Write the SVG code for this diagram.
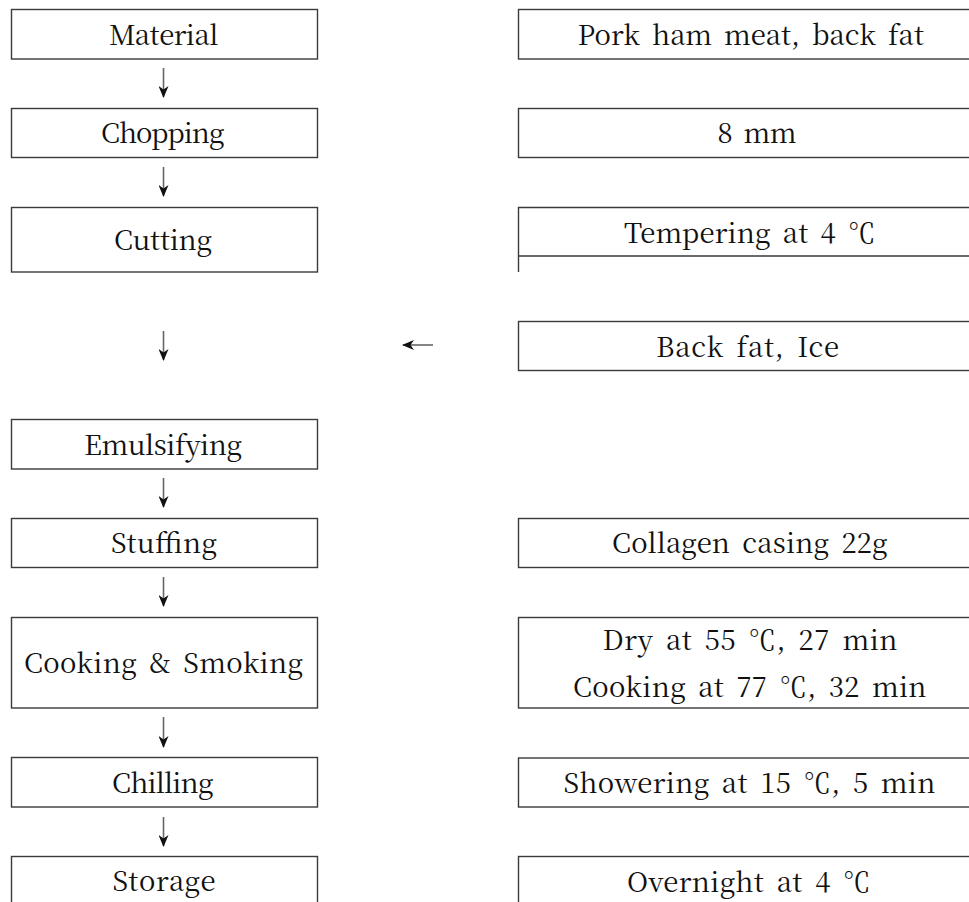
<svg xmlns="http://www.w3.org/2000/svg" width="969" height="902" viewBox="0 0 969 902">
<style>
.box{fill:#fff;stroke:#3a3a3a;stroke-width:1.4}
.ln{fill:none;stroke:#3a3a3a;stroke-width:1.4}
.t{font-family:'Noto Serif CJK KR','Liberation Serif','Noto Sans CJK KR',serif;font-size:27.5px;fill:#111;word-spacing:5px}
.arr{stroke:#666;stroke-width:1.6;fill:none;marker-end:url(#ah)}
</style>
<defs>
<marker id="ah" markerUnits="userSpaceOnUse" markerWidth="12" markerHeight="10" viewBox="0 0 12 10" refX="11" refY="5" orient="auto">
<path d="M0,0 L12,5 L0,10 L3.5,5 z" fill="#111"/>
</marker>
</defs>
<rect width="969" height="902" fill="#fff"/>
<g id="connectors">
<line class="arr" x1="163.5" y1="68" x2="163.5" y2="97"/>
<line class="arr" x1="163.5" y1="167" x2="163.5" y2="196"/>
<line class="arr" x1="163.5" y1="331" x2="163.5" y2="360"/>
<line class="arr" x1="433" y1="345" x2="403" y2="345"/>
<line class="arr" x1="163.5" y1="478" x2="163.5" y2="507"/>
<line class="arr" x1="163.5" y1="577" x2="163.5" y2="606"/>
<line class="arr" x1="163.5" y1="717" x2="163.5" y2="747"/>
<line class="arr" x1="163.5" y1="817" x2="163.5" y2="846"/>
</g>
<g id="material">
<rect class="box" x="11.5" y="9.5" width="306" height="49.5"/>
<text class="t" x="109" y="45" textLength="109.5" lengthAdjust="spacing">Material</text>
</g>
<g id="chopping">
<rect class="box" x="11.5" y="108.5" width="306" height="49"/>
<text class="t" x="101" y="143.3" textLength="123.5" lengthAdjust="spacing">Chopping</text>
</g>
<g id="cutting">
<rect class="box" x="11.5" y="207.5" width="306" height="64.5"/>
<text class="t" x="114" y="250" textLength="98" lengthAdjust="spacing">Cutting</text>
</g>
<g id="emulsifying">
<rect class="box" x="11.5" y="419.5" width="306" height="49.5"/>
<text class="t" x="84" y="455" textLength="158" lengthAdjust="spacing">Emulsifying</text>
</g>
<g id="stuffing">
<rect class="box" x="11.5" y="518.5" width="306" height="49"/>
<text class="t" x="111" y="553.3" textLength="106" lengthAdjust="spacing">Stuffing</text>
</g>
<g id="cooking-smoking">
<rect class="box" x="11.5" y="617.5" width="306" height="90.5"/>
<text class="t" x="24" y="673.3" textLength="279" lengthAdjust="spacing">Cooking &amp; Smoking</text>
</g>
<g id="chilling">
<rect class="box" x="11.5" y="757.5" width="306" height="49.5"/>
<text class="t" x="112" y="793.3" textLength="101.5" lengthAdjust="spacing">Chilling</text>
</g>
<g id="storage">
<rect class="box" x="11.5" y="856.5" width="306" height="60"/>
<text class="t" x="112.5" y="891" textLength="103" lengthAdjust="spacing">Storage</text>
</g>
<g id="pork">
<rect class="box" x="518.5" y="9.5" width="480" height="49.5"/>
<text class="t" x="577.5" y="45" textLength="346.5" lengthAdjust="spacing">Pork ham meat, back fat</text>
</g>
<g id="mm">
<rect class="box" x="518.5" y="108.5" width="480" height="49"/>
<text class="t" x="717.5" y="143.3" textLength="79" lengthAdjust="spacing">8 mm</text>
</g>
<g id="tempering">
<path class="ln" d="M518.5,272 V207.5 H1000 M518.5,256 H1000"/>
<text class="t" x="624" y="243.3" textLength="251.5" lengthAdjust="spacing">Tempering at 4 ℃</text>
</g>
<g id="backfat-ice">
<rect class="box" x="518.5" y="321.5" width="480" height="49"/>
<text class="t" x="656" y="356.7" textLength="183" lengthAdjust="spacing">Back fat, Ice</text>
</g>
<g id="collagen">
<rect class="box" x="518.5" y="518.5" width="480" height="49"/>
<text class="t" x="612" y="553.3" textLength="275.5" lengthAdjust="spacing">Collagen casing 22g</text>
</g>
<g id="dry-cooking">
<rect class="box" x="518.5" y="617.5" width="480" height="90.5"/>
<text class="t" x="602.5" y="650" textLength="295" lengthAdjust="spacing">Dry at 55 ℃, 27 min</text>
<text class="t" x="573" y="696.7" textLength="353.5" lengthAdjust="spacing">Cooking at 77 ℃, 32 min</text>
</g>
<g id="showering">
<rect class="box" x="518.5" y="758" width="480" height="49"/>
<text class="t" x="563.5" y="792.7" textLength="372" lengthAdjust="spacing">Showering at 15 ℃, 5 min</text>
</g>
<g id="overnight">
<rect class="box" x="518.5" y="856.5" width="480" height="60"/>
<text class="t" x="627" y="892" textLength="243.5" lengthAdjust="spacing">Overnight at 4 ℃</text>
</g>
</svg>
